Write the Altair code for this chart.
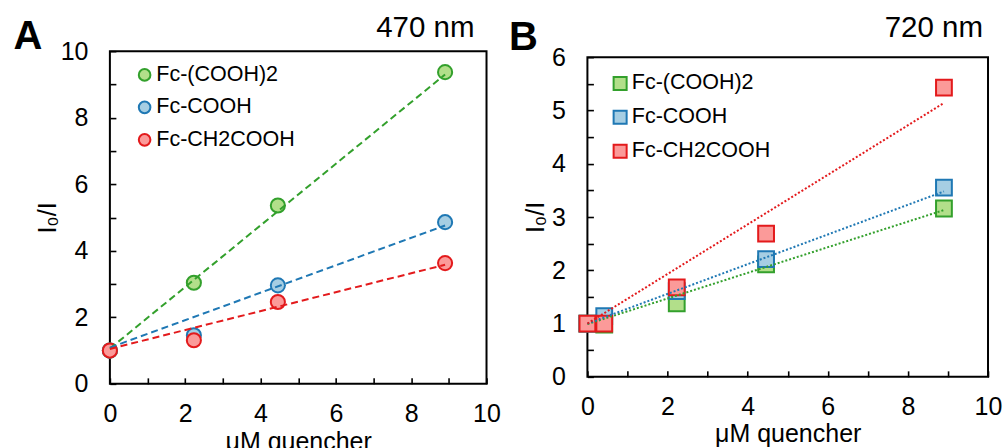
import altair as alt
import pandas as pd

FONT = "Liberation Sans"

series = ["Fc-(COOH)2", "Fc-COOH", "Fc-CH2COOH"]
dark = ["#33a02c", "#1f78b4", "#e31a1c"]
light = ["#b2df8a", "#a6cee3", "#fb9a99"]

# Panel A (470 nm)
xA = [0, 2.23, 4.46, 8.9]
yA_green = [1.0, 3.04, 5.36, 9.37]
yA_blue = [1.0, 1.46, 2.96, 4.86]
yA_red = [1.0, 1.31, 2.46, 3.63]
fitA_start = [1.06, 1.09, 1.05]
fitA_end = [9.30, 4.76, 3.58]

# Panel B (720 nm)
xB = [0, 0.42, 2.23, 4.46, 8.9]
yB_green = [1.0, 0.98, 1.38, 2.11, 3.16]
yB_blue = [1.0, 1.14, 1.61, 2.21, 3.55]
yB_red = [1.0, 1.0, 1.68, 2.69, 5.43]
fitB_start = [0.99, 1.0, 1.0]
fitB_end = [3.13, 3.48, 5.14]

fit_x = [0, 8.9]

x_label_vals = [0, 2, 4, 6, 8, 10]
x_tick_vals = list(range(0, 11))
yA_label_vals = [0, 2, 4, 6, 8, 10]
yA_tick_vals = list(range(0, 11))
yB_label_vals = [0, 1, 2, 3, 4, 5, 6]
yB_tick_vals = [i / 2 for i in range(0, 13)]


def points_df(xs, ys_list):
    rows = []
    for s, ys in zip(series, ys_list):
        for x, y in zip(xs, ys):
            rows.append({"series": s, "x": x, "y": y})
    return pd.DataFrame(rows)


def fits_df(starts, ends):
    rows = []
    for s, c, y0, y1 in zip(series, dark, starts, ends):
        rows.append({"series": s, "col": c, "x": fit_x[0], "y": y0})
        rows.append({"series": s, "col": c, "x": fit_x[1], "y": y1})
    return pd.DataFrame(rows)


ptsA = points_df(xA, [yA_green, yA_blue, yA_red])
ptsB = points_df(xB, [yB_green, yB_blue, yB_red])
fitA = fits_df(fitA_start, fitA_end)
fitB = fits_df(fitB_start, fitB_end)


def letter_layer(letter, lx, ly):
    return alt.Chart(pd.DataFrame({"t": [letter]})).mark_text(
        font=FONT, fontSize=40, fontWeight="bold", align="center",
        baseline="alphabetic", color="black"
    ).encode(x=alt.value(lx), y=alt.value(ly), text="t:N")


def wl_layer(W, wl, wl_dx, wl_y):
    return alt.Chart(pd.DataFrame({"t": [wl]})).mark_text(
        font=FONT, fontSize=29.5, align="right", baseline="alphabetic",
        color="black"
    ).encode(x=alt.value(W + wl_dx), y=alt.value(wl_y), text="t:N")


def panel(pts, fits, W, H, ymax, ylab, ytick, shape, psize, lsize, dash,
          leg_x, leg_y, leg_row, ytitle_x, xtitle_pad, extra_layers):
    xs = alt.Scale(domain=[0, 10], nice=False, zero=False)
    ys = alt.Scale(domain=[0, ymax], nice=False, zero=False)
    fill_scale = alt.Scale(domain=series, range=light)
    stroke_scale = alt.Scale(domain=series, range=dark)
    legend = alt.Legend(
        orient="none", legendX=leg_x, legendY=leg_y, title=None,
        labelFont=FONT, labelFontSize=21.5, labelColor="black",
        symbolSize=lsize, symbolStrokeWidth=2, rowPadding=leg_row,
        labelOffset=1, padding=0,
    )
    pts_layer = alt.Chart(pts).mark_point(
        shape=shape, filled=True, size=psize, strokeWidth=2, opacity=1
    ).encode(
        x=alt.X("x:Q", scale=xs, axis=alt.Axis(
            orient="bottom", values=x_label_vals, title="μM quencher",
            ticks=False, tickSize=0, domain=False, grid=False, labelFlush=False,
            labelPadding=18, titlePadding=xtitle_pad)),
        y=alt.Y("y:Q", scale=ys, axis=alt.Axis(
            orient="left", values=ylab, title="I₀/I",
            ticks=False, tickSize=0, domain=False, grid=False, labelFlush=False,
            labelPadding=22, titlePadding=0, titleX=ytitle_x)),
        fill=alt.Fill("series:N", scale=fill_scale, legend=legend),
        stroke=alt.Stroke("series:N", scale=stroke_scale, legend=legend),
    )
    line_layer = alt.Chart(fits).mark_line(strokeDash=dash, strokeWidth=2).encode(
        x=alt.X("x:Q", scale=xs, axis=alt.Axis(
            orient="top", offset=-H, values=x_tick_vals, labels=False,
            domain=False, grid=False, ticks=True, tickSize=6, tickWidth=1.6,
            tickColor="black", title=None)),
        y=alt.Y("y:Q", scale=ys, axis=alt.Axis(
            orient="right", offset=-W, values=ytick, labels=False,
            domain=False, grid=False, ticks=True, tickSize=6, tickWidth=1.6,
            tickColor="black", title=None)),
        stroke=alt.Stroke("col:N", scale=None),
        detail="series:N",
    )
    return alt.layer(pts_layer, line_layer, *extra_layers).resolve_axis(
        x="independent", y="independent"
    ).properties(width=W, height=H)


WA, HA = 377, 333
WB, HB = 401, 320

chartA = panel(ptsA, fitA, WA, HA, 10, yA_label_vals, yA_tick_vals, "circle",
               200, 135, [7, 4], 24, 13, 9.5, -49, 3,
               [letter_layer("A", -82, -2), wl_layer(WA, "470 nm", -12, -14)])
chartB = panel(ptsB, fitB, WB, HB, 6, yB_label_vals, yB_tick_vals, "square",
               250, 170, [2, 2], 22, 21.5, 11, -39, 2,
               [letter_layer("B", -64, -7)])

# thin header strip above panel B holding its wavelength; its height sets
# how far panel B sits below panel A
headB = wl_layer(WB, "720 nm", -5, -14).properties(
    width=WB, height=5, view=alt.ViewBackground(stroke="transparent")
)
colB = alt.vconcat(headB, chartB, spacing=-60)

chart = alt.concat(chartA, colB, columns=2, spacing=6).resolve_scale(
    fill="independent", stroke="independent"
).resolve_legend(
    fill="independent", stroke="independent"
).properties(
    padding={"left": 12, "top": 12, "right": 0, "bottom": 0}
).configure_view(
    stroke="black", strokeWidth=2
).configure_axis(
    labelFont=FONT, labelFontSize=25, labelColor="black",
    titleFont=FONT, titleFontSize=25, titleFontWeight="normal", titleColor="black"
)

chart.save("out.html", embed_options={"renderer": "svg", "actions": False})
